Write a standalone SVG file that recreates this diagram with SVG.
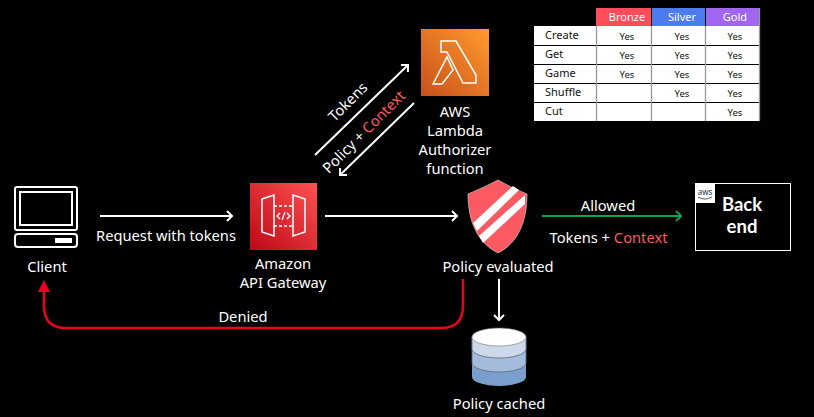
<svg xmlns="http://www.w3.org/2000/svg" width="814" height="417" viewBox="0 0 814 417">
<style>
text{font-family:"Noto Sans","Open Sans","Liberation Sans",sans-serif;fill:#fff;font-size:14.7px;text-anchor:middle}
.th{font-size:11px}.td{font-size:9.5px;fill:#111}.tl{font-size:11px;fill:#111;text-anchor:start}
.red{fill:#ff5a5f}
.be{font-family:Lato,"Liberation Sans",sans-serif;font-size:18.5px;font-weight:700}
.w{fill:none;stroke:#fff;stroke-width:2}
.g{fill:none;stroke:#fff;stroke-width:1.5}
.cell{fill:#fff}
.ln{stroke:#000;stroke-width:1}.lv{stroke:#999;stroke-width:1.3}
</style>
<defs>
<linearGradient id="lam" x1="0" y1="1" x2="1" y2="0"><stop offset="0" stop-color="#c8511b"/><stop offset="1" stop-color="#ff9a2e"/></linearGradient>
<linearGradient id="api" x1="0" y1="1" x2="1" y2="0"><stop offset="0" stop-color="#bd0816"/><stop offset="1" stop-color="#ff5252"/></linearGradient>
<marker id="ow" markerWidth="12" markerHeight="12" refX="9.5" refY="6" orient="auto" markerUnits="userSpaceOnUse"><path d="M4.5 1L9.5 6L4.5 11" fill="none" stroke="#fff" stroke-width="2"/></marker>
<marker id="og" markerWidth="12" markerHeight="12" refX="9.500" refY="6" orient="auto" markerUnits="userSpaceOnUse"><path d="M4.5 1L9.5 6L4.5 11" fill="none" stroke="#00a651" stroke-width="2"/></marker>
</defs>
<rect width="814" height="417" fill="#000"/>

<g id="connectors">
<path class="w" d="M100 216H232" marker-end="url(#ow)"/>
<path class="w" d="M325 216H457" marker-end="url(#ow)"/>
<path d="M542 216H681" fill="none" stroke="#00a651" stroke-width="2" marker-end="url(#og)"/>
<path class="w" d="M315 155L408 65" marker-end="url(#ow)"/>
<path class="w" d="M414 103L340 175" marker-end="url(#ow)"/>
<path class="w" d="M499 279V320" marker-end="url(#ow)"/>
<path d="M463 279V306Q463 328 441 328H66Q44 328 44 306V290" fill="none" stroke="#f00020" stroke-width="2.5"/>
<path d="M44 280L50 292H38Z" fill="#f00020"/>
</g>
<g id="connector-labels">
<text x="166" y="241">Request with tokens</text>
<text x="608" y="210.500">Allowed</text>
<text x="608.500" y="243">Tokens + <tspan class="red">Context</tspan></text>
<text x="243" y="321.500">Denied</text>
<text transform="translate(351.500 105.500) rotate(-45)">Tokens</text>
<text transform="translate(367.500 135.500) rotate(-45)">Policy + <tspan class="red">Context</tspan></text>
</g>

<g id="client">
<rect class="g" x="15" y="187" width="62" height="43" rx="2" style="stroke-width:2"/>
<rect class="g" x="20" y="192" width="52" height="33" style="stroke-width:2"/>
<rect class="g" x="15" y="234" width="62" height="13" rx="3" style="stroke-width:2"/>
<rect x="55" y="238" width="17" height="5" fill="#fff"/>
<text x="47" y="271.500">Client</text>
</g>

<g id="api-gateway">
<rect x="250" y="183" width="67" height="67" fill="url(#api)"/>
<path class="g" d="M262 199L274 195V236L262 232Z"/>
<path class="g" d="M305 199L293 195V236L305 232Z"/>
<path d="M274 206H293M274 226H293" fill="none" stroke="#fff" stroke-width="1.5" stroke-dasharray="3 2"/>
<path d="M280 213L277 216L280 219M287 213L290 216L287 219M285 212L282 220" fill="none" stroke="#fff" stroke-width="1.3"/>
<text x="283" y="268.500">Amazon</text>
<text x="283" y="287.500">API Gateway</text>
</g>

<g id="lambda">
<rect x="421" y="29" width="68" height="67" fill="url(#lam)"/>
<path class="g" d="M441 41H456L476 75V83H463L447 52H441Z"/>
<path class="g" d="M447 57L453 70L442 84H433Z"/>
<text x="455" y="116.500">AWS</text>
<text x="455" y="135.500">Lambda</text>
<text x="455" y="154.500">Authorizer</text>
<text x="455" y="173.500">function</text>
</g>

<g id="policy-evaluated">
<path d="M498 180Q510 187 527 194C527 222 518 243 498 253C478 243 468 222 468 194Q485 187 498 180Z" fill="#fb5a63" stroke="#ddd" stroke-width="0.6"/>
<path d="M473 223L513 186L519 190L477 231Z" fill="#fff"/>
<path d="M479 236L525 195V204L483 243Z" fill="#fff"/>
<text x="498" y="271.500">Policy evaluated</text>
</g>

<g id="backend">
<rect x="695.500" y="183.500" width="95" height="67" fill="#000" stroke="#fff" stroke-width="1"/>
<rect x="695" y="183" width="20" height="20" fill="#fff"/>
<text x="705" y="195" style="font-size:8px;fill:#232f3e">aws</text>
<path d="M698 197Q705 201 712 197" fill="none" stroke="#232f3e" stroke-width="0.8"/>
<text class="be" x="742" y="211">Back</text>
<text class="be" x="742" y="233">end</text>
</g>

<g id="policy-cache">
<path d="M472 337V377A27 9 0 0 0 526 377V337Z" fill="#7b9fcd"/>
<path d="M472 337V363A27 9 0 0 0 526 363V337Z" fill="#a4bbdc" stroke="#5a6a80" stroke-width="0.8"/>
<path d="M472 337V349A27 9 0 0 0 526 349V337Z" fill="#cdd9ea" stroke="#5a6a80" stroke-width="0.8"/>
<ellipse cx="499" cy="337" rx="27" ry="9" fill="#fff" stroke="#777" stroke-width="0.6"/>
<text x="499" y="408.500">Policy cached</text>
</g>

<g id="tier-table">
<rect x="596" y="8" width="55" height="18" fill="#ff4d5c"/>
<rect x="652" y="8" width="53" height="18" fill="#4d7cf0"/>
<rect x="706" y="8" width="53" height="18" fill="#a166f0"/>
<text class="th" x="627" y="20.500">Bronze</text>
<text class="th" x="682" y="20.500">Silver</text>
<text class="th" x="735" y="20.500">Gold</text>
<rect class="cell" x="534" y="26" width="225" height="95"/>
<path class="ln" d="M534 45.500H759M534 64.500H759M534 83.500H759M534 102.500H759"/>
<path class="lv" d="M596.500 26V121M651.500 26V121M705.500 26V121M759.500 8V121"/>
<text class="tl" x="545" y="39">Create</text>
<text class="tl" x="545" y="58">Get</text>
<text class="tl" x="545" y="77">Game</text>
<text class="tl" x="545" y="96">Shuffle</text>
<text class="tl" x="545" y="115">Cut</text>
<text class="td" x="627" y="39.500">Yes</text><text class="td" x="682" y="39.500">Yes</text><text class="td" x="735" y="39.500">Yes</text>
<text class="td" x="627" y="58.500">Yes</text><text class="td" x="682" y="58.500">Yes</text><text class="td" x="735" y="58.500">Yes</text>
<text class="td" x="627" y="77.500">Yes</text><text class="td" x="682" y="77.500">Yes</text><text class="td" x="735" y="77.500">Yes</text>
<text class="td" x="682" y="96.500">Yes</text><text class="td" x="735" y="96.500">Yes</text>
<text class="td" x="735" y="115.500">Yes</text>
</g>
</svg>
